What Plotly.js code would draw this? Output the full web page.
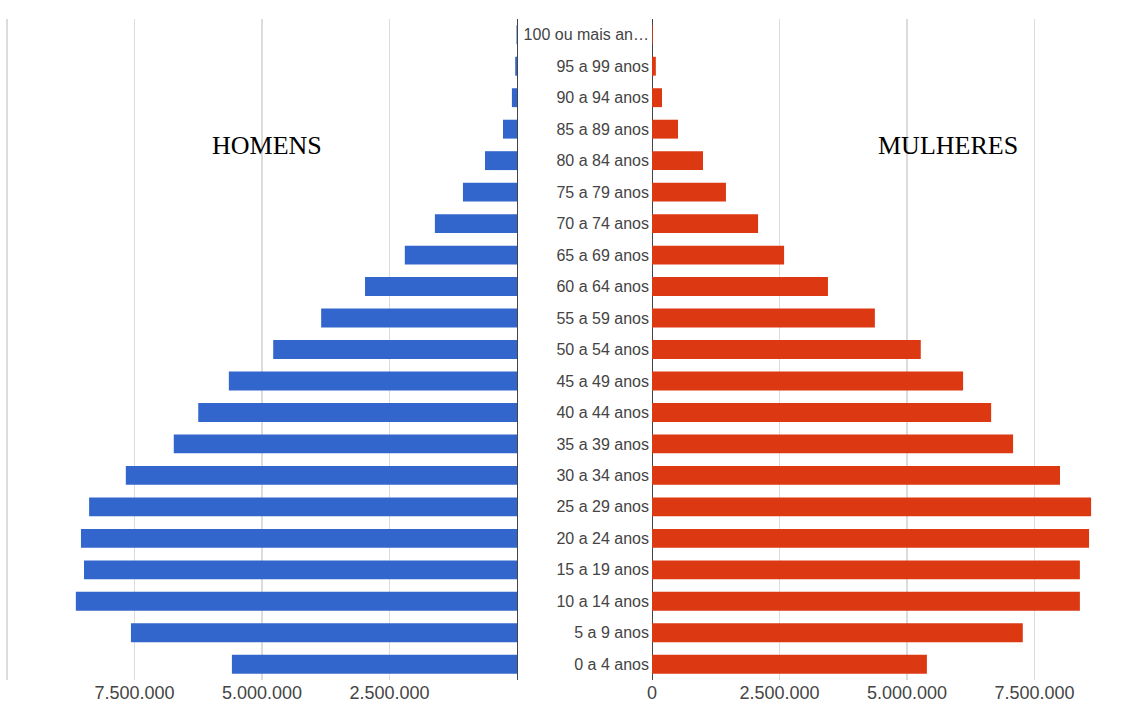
<!DOCTYPE html>
<html>
<head>
<meta charset="utf-8">
<script src="https://cdn.plot.ly/plotly-3.0.1.min.js"></script>
<style>html,body{margin:0;padding:0;background:#fff;}#chart{width:1147px;height:711px;}</style>
</head>
<body>
<div id="chart"></div>
<script>
const categories = ["0 a 4 anos","5 a 9 anos","10 a 14 anos","15 a 19 anos","20 a 24 anos","25 a 29 anos","30 a 34 anos","35 a 39 anos","40 a 44 anos","45 a 49 anos","50 a 54 anos","55 a 59 anos","60 a 64 anos","65 a 69 anos","70 a 74 anos","75 a 79 anos","80 a 84 anos","85 a 89 anos","90 a 94 anos","95 a 99 anos","100 ou mais an…"];
const homens = [5590000,7570000,8650000,8490000,8550000,8390000,7670000,6730000,6250000,5650000,4780000,3840000,2980000,2200000,1610000,1060000,627000,275000,100000,35000,10000];
const mulheres = [5390000,7270000,8390000,8390000,8570000,8610000,8000000,7080000,6650000,6100000,5270000,4370000,3450000,2590000,2080000,1450000,1000000,510000,196000,75000,15000];
const leftTickVals = [2500000,5000000,7500000,10000000];
const leftTickText = ["2.500.000","5.000.000","7.500.000",""];
const rightTickVals = [0,2500000,5000000,7500000];
const rightTickText = ["0","2.500.000","5.000.000","7.500.000"];

const W = 1147;
const traces = [
  {type:'bar', orientation:'h', y:categories, x:homens, xaxis:'x', yaxis:'y', marker:{color:'#3366cc'}, name:'HOMENS', hoverinfo:'x+y'},
  {type:'bar', orientation:'h', y:categories, x:mulheres, xaxis:'x2', yaxis:'y', marker:{color:'#dc3912'}, name:'MULHERES', hoverinfo:'x+y'}
];
const catFont = {family:'Liberation Sans, Arial, sans-serif', size:16, color:'#444'};
const tickFont = {family:'Liberation Sans, Arial, sans-serif', size:18, color:'#444'};
const titleFont = {family:'Liberation Serif, Times New Roman, serif', size:26, color:'#000'};
const layout = {
  width:1147, height:711,
  margin:{l:0, r:0, t:19, b:31, pad:0},
  paper_bgcolor:'#fff', plot_bgcolor:'#fff',
  showlegend:false,
  bargap:0.4,
  separators:',.',
  xaxis:{domain:[0, 517/W], range:[517/127.5*2500000, 0], tickvals:leftTickVals, ticktext:leftTickText,
    showgrid:true, gridcolor:'#dcdcdc', gridwidth:1.5, zeroline:true, zerolinecolor:'#444', zerolinewidth:1,
    showline:false, ticks:'', tickfont:tickFont, fixedrange:true},
  xaxis2:{domain:[652/W, 1], range:[0, (W-652)/127.5*2500000], tickvals:rightTickVals, ticktext:rightTickText,
    showgrid:true, gridcolor:'#dcdcdc', gridwidth:1.5, zeroline:true, zerolinecolor:'#444', zerolinewidth:1,
    showline:false, ticks:'', tickfont:tickFont, fixedrange:true},
  yaxis:{type:'category', anchor:'x2', side:'left', showgrid:false, zeroline:false, showline:false, ticks:'',
    tickfont:catFont, ticklabelstandoff:2, automargin:false, fixedrange:true},
  annotations:[
    {text:'HOMENS', xref:'paper', yref:'paper', x:267/W, y:(680-145)/661, showarrow:false, xanchor:'center', yanchor:'middle', font:titleFont},
    {text:'MULHERES', xref:'paper', yref:'paper', x:948/W, y:(680-145)/661, showarrow:false, xanchor:'center', yanchor:'middle', font:titleFont}
  ]
};
Plotly.newPlot('chart', traces, layout, {displayModeBar:false, staticPlot:true});
</script>
</body>
</html>
